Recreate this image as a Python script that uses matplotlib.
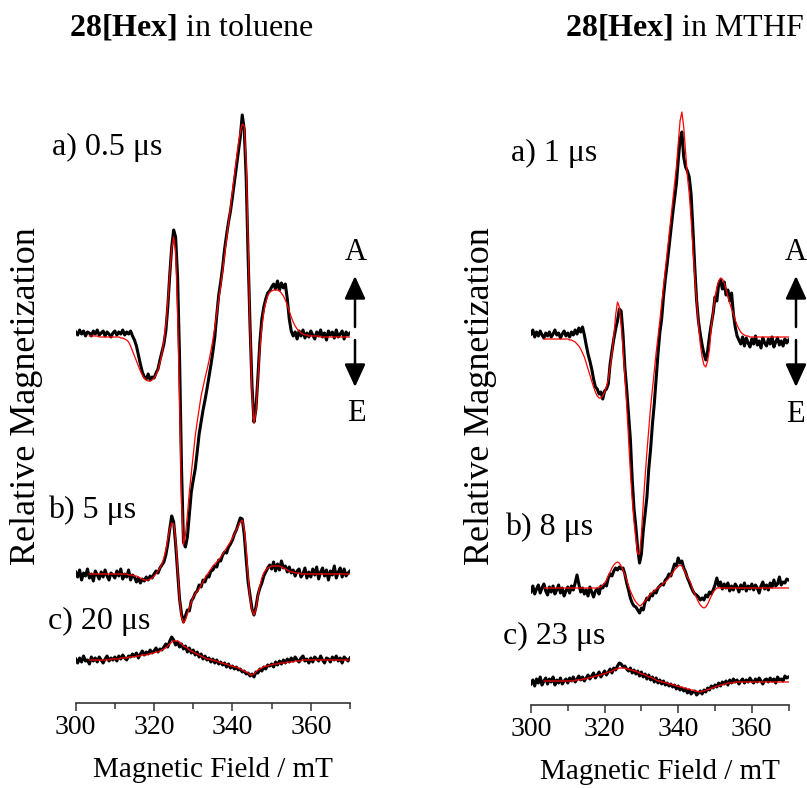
import numpy as np
import matplotlib
matplotlib.use("Agg")
import matplotlib.pyplot as plt
from matplotlib.ticker import MultipleLocator

plt.rcParams["font.family"] = "Liberation Serif"
plt.rcParams["mathtext.fontset"] = "custom"
plt.rcParams["mathtext.rm"] = "Liberation Serif"
plt.rcParams["mathtext.bf"] = "Liberation Serif:bold"

# magnetic field grid (mT): spectra every 0.5 mT, simulations start at 303.5 mT
field = np.arange(300.0, 370.25, 0.5)
fit_field = np.arange(303.5, 370.25, 0.5)

# ---- 28[Hex] in toluene (relative magnetization, arb. units) ----
tol_a_exp = [5, 2, 7, 3, 6, 1, 5, 4, 1, 6,
             3, 7, 2, 4, 6, 1, 5, 3, 0, 4,
             6, 2, 5, 3, 7, 2, 5, 3, 6, 1,
             -3, -9, -18, -27, -35, -40, -42, -37, -43, -40,
             -41, -36, -32, -23, -15, -7, 6, 30, 62, 90,
             107, 100, 60, -20, -130, -205, -210, -200, -178, -155,
             -143, -132, -115, -97, -85, -73, -63, -52, -40, -28,
             -15, 0, 22, 42, 55, 70, 88, 102, 115, 126,
             140, 155, 170, 185, 200, 222, 208, 160, 80, 10,
             -50, -85, -72, -40, -5, 18, 30, 38, 44, 46,
             50, 53, 48, 56, 47, 54, 49, 53, 38, 18,
             6, 1, 5, -2, 6, 1, 7, -1, 4, 0,
             6, 2, -2, 5, 1, 7, 0, 4, -3, 6,
             2, 5, -1, 7, 0, 3, 6, -2, 5, 2,
             4]
tol_a_fit = [1, 1, 1,
             1, 1, 0, 0, 0, 0, 0, 0, 0, 0,
             0, 0, 0, -1, -1, -2, -3, -5, -9, -14,
             -19, -24, -29, -34, -38, -41, -43, -44, -44, -43,
             -41, -38, -33, -26, -16, -4, 12, 35, 63, 88,
             100, 85, 25, -60, -165, -208, -198, -178, -155, -136,
             -116, -99, -85, -72, -59, -50, -41, -33, -24, -14,
             -3, 10, 24, 37, 51, 66, 82, 98, 114, 130,
             146, 162, 178, 193, 205, 213, 211, 175, 95, 5,
             -58, -86, -75, -42, -12, 10, 25, 35, 41, 45,
             46, 47, 47, 47, 46, 44, 41, 37, 32, 26,
             20, 15, 11, 8, 6, 4, 3, 2, 2, 1,
             1, 1, 1, 1, 1, 0, 0, 0, 0, 0,
             0, 0, 0, 0, 0, 0, 0, 0, 0, 0,
             0]
tol_b_exp = [2, -3, 4, -6, 1, -2, 5, -4, 0, -7,
             3, -1, -5, 2, -3, 4, -2, -6, 1, -1,
             -4, 3, -2, 5, -5, 0, -3, 4, -6, -1,
             -3, -8, -4, -9, -5, -7, -3, -6, -2, -4,
             0, 3, 1, 6, 9, 12, 19, 30, 45, 58,
             52, 30, 2, -25, -40, -48, -42, -36, -37, -27,
             -24, -19, -17, -11, -13, -6, -8, -2, -3, 3,
             4, 8, 7, 14, 13, 19, 22, 21, 27, 30,
             34, 40, 44, 50, 56, 55, 40, 15, -8, -22,
             -35, -41, -33, -21, -14, -9, -2, 2, 6, 9,
             5, 12, 3, 10, 4, 13, 6, 8, 2, 7,
             1, 4, -2, 3, 5, -3, 0, 6, -4, 2,
             -3, 5, -1, 7, -5, 2, 6, -2, 4, -6,
             3, -1, 8, -4, 2, 6, -3, 5, -2, 1,
             3]
tol_b_fit = [0, 0, 0,
             0, 0, 0, 0, 0, 0, 0, 0, 0, 0,
             0, 0, 0, 0, 0, 0, 0, -1, -1, -1,
             -2, -2, -3, -4, -5, -6, -6, -6, -5, -4,
             -2, 0, 3, 6, 10, 16, 24, 35, 45, 51,
             50, 35, 5, -25, -43, -49, -46, -40, -34, -28,
             -23, -20, -17, -15, -11, -8, -4, -1, 2, 5,
             8, 10, 12, 14, 17, 20, 23, 26, 29, 32,
             36, 40, 44, 48, 52, 54, 45, 25, -2, -25,
             -36, -41, -35, -22, -12, -4, 1, 4, 6, 7,
             8, 8, 8, 8, 8, 7, 6, 5, 4, 3,
             2, 2, 1, 1, 1, 0, 0, 0, 0, 0,
             0, 0, 0, 0, 0, 0, 0, 0, 0, 0,
             0, 0, 0, 0, 0, 0, 0, 0, 0, 0,
             0]
tol_c_exp = [1, -3, 2, -2, 4, -1, 0, -4, 3, -1,
             2, -2, 3, 0, -3, 1, 4, -1, 2, 0,
             3, -1, 4, 1, 5, 2, 0, 4, 3, 6,
             4, 7, 2, 6, 9, 5, 8, 6, 10, 7,
             9, 12, 8, 11, 10, 13, 16, 13, 19, 23,
             20, 15, 18, 13, 16, 11, 14, 8, 12, 7,
             10, 5, 8, 3, 6, 1, 4, 0, 2, -2,
             1, -3, 0, -4, -2, -5, -3, -7, -4, -8,
             -6, -9, -7, -10, -9, -12, -11, -14, -13, -16,
             -14, -17, -12, -13, -9, -11, -7, -9, -5, -6,
             -4, -7, -2, -5, -1, -4, 0, -3, 1, -2,
             2, -1, 3, 0, -2, 2, 4, -1, 1, -3,
             2, -2, 3, 1, -1, 4, 0, -3, 2, 1,
             -2, 3, 0, 4, -1, 2, -3, 3, 1, -1,
             2]
tol_c_fit = [0, 0, 0,
             0, 0, 0, 0, 0, 0, 0, 0, 1, 1,
             1, 1, 1, 2, 2, 2, 2, 3, 3, 3,
             3, 4, 4, 4, 5, 5, 5, 6, 6, 7,
             7, 8, 8, 9, 10, 11, 12, 14, 16, 18,
             19, 19, 19, 18, 16, 14, 13, 12, 10, 9,
             8, 7, 6, 5, 4, 3, 2, 1, 1, 0,
             0, -1, -1, -2, -3, -3, -4, -4, -5, -6,
             -6, -7, -7, -8, -9, -10, -11, -12, -13, -15,
             -15, -14, -12, -10, -9, -8, -7, -6, -6, -5,
             -5, -4, -4, -4, -3, -3, -3, -3, -2, -2,
             -2, -2, -1, -1, -1, -1, 0, 0, 0, 0,
             0, 0, 0, 0, 0, 0, 0, 0, 0, 0,
             0, 0, 0, 0, 0, 0, 0, 0, 0, 0,
             0]

# ---- 28[Hex] in MTHF ----
mthf_a_exp = [5, 9, 2, 7, 3, 8, 4, 1, 6, 3,
              7, 2, 5, 9, 4, 6, 1, 5, 8, 3,
              6, 2, 7, 4, 9, 5, 11, 7, 12, 4,
              -6, -15, -22, -30, -40, -48, -50, -55, -53, -60,
              -52, -50, -45, -25, -12, 0, 10, 18, 30, 28,
              5, -28, -50, -75, -100, -140, -170, -188, -210, -224,
              -215, -192, -175, -158, -130, -110, -85, -65, -40, -15,
              6, 20, 42, 60, 75, 92, 108, 125, 140, 155,
              178, 199, 207, 182, 172, 168, 162, 145, 110, 72,
              39, 18, 5, -6, -15, -21, -12, 3, 15, 26,
              42, 38, 55, 59, 50, 57, 44, 49, 38, 46,
              25, 12, 3, -1, -5, 2, -7, 1, -4, -8,
              0, -5, 3, -6, -2, -9, 1, -4, -7, 0,
              -5, 2, -8, -3, 1, -6, -2, -7, 0, -4,
              -1]
mthf_a_fit = [0, 0, 0,
              0, 0, 0, 0, 0, 0, 0, 0, 0, 0,
              0, -1, -1, -2, -3, -5, -7, -10, -14, -18,
              -24, -30, -36, -42, -48, -53, -57, -59, -59, -57,
              -53, -48, -40, -28, -15, 3, 24, 37, 32, 14,
              -10, -37, -66, -100, -133, -160, -183, -200, -215, -215,
              -195, -165, -138, -113, -90, -68, -50, -32, -14, 2,
              18, 35, 52, 69, 86, 103, 120, 137, 154, 172,
              195, 218, 227, 212, 188, 163, 145, 120, 90, 62,
              38, 15, -5, -18, -26, -28, -22, -10, 12, 28,
              42, 52, 58, 61, 60, 56, 50, 43, 36, 30,
              25, 19, 14, 10, 7, 5, 4, 3, 3, 2,
              2, 2, 2, 2, 2, 2, 2, 2, 2, 2,
              2, 2, 2, 2, 2, 2, 2, 2, 2, 2,
              2]
mthf_b_exp = [-4, 2, -6, -1, 3, -5, 0, 4, -3, -7,
              1, -4, 2, -6, -2, 3, -5, 0, -8, -3,
              1, -5, 2, -2, 5, 13, 4, -4, 0, -6,
              -2, -8, 1, -4, -9, -3, -1, -6, 2, 0,
              4, 2, 10, 14, 12, 17, 20, 18, 21, 19,
              20, 14, 5, -2, -10, -15, -18, -19, -22, -25,
              -20, -22, -14, -10, -12, -6, -8, -3, -5, 0,
              2, 4, 3, 8, 10, 14, 12, 18, 24, 22,
              30, 25, 27, 20, 16, 10, 6, 1, -3, -6,
              -7, -9, -12, -10, -12, -7, -9, -4, -6, -2,
              3, 10, 2, 6, -1, 4, 0, 5, -3, 2,
              -2, 4, 1, -4, 3, -1, 5, -3, 2, -1,
              4, -2, 3, 0, -5, 2, 6, -1, 3, -2,
              5, 1, 8, 2, 4, 11, 3, 6, 5, 9,
              8]
mthf_b_fit = [0, 0, 0,
              0, 0, 0, 0, 0, 0, 0, 0, 0, 0,
              0, 0, 0, 0, 0, 0, 0, 0, 0, 0,
              0, 0, 0, 0, 0, 0, 0, 1, 1, 3,
              5, 8, 12, 16, 20, 23, 25, 26, 25, 22,
              18, 13, 8, 2, -3, -7, -11, -14, -16, -18,
              -17, -15, -13, -11, -8, -6, -4, -3, -1, 0,
              2, 3, 5, 6, 8, 10, 13, 15, 18, 20,
              22, 23, 22, 19, 15, 11, 8, 4, -2, -6,
              -10, -14, -17, -19, -20, -19, -16, -12, -8, -4,
              -2, 0, 0, 0, 0, 0, 0, 0, 0, 0,
              0, 0, 0, 0, 0, 0, 0, 0, 0, 0,
              0, 0, 0, 0, 0, 0, 0, 0, 0, 0,
              0, 0, 0, 0, 0, 0, 0, 0, 0, 0,
              0]
mthf_c_exp = [-3, 1, -5, 2, -2, 4, -4, 0, 3, -3,
              2, -1, 4, -4, 1, -2, 3, -3, 0, 2,
              -2, 3, 0, 4, -1, 2, 5, 1, 4, 0,
              3, 6, 2, 5, 8, 3, 6, 9, 4, 7,
              10, 6, 9, 12, 8, 13, 11, 15, 18, 17,
              14, 15, 12, 10, 13, 8, 11, 7, 10, 5,
              9, 4, 7, 2, 6, 1, 4, -1, 3, -2,
              1, -3, 0, -4, -2, -5, -3, -6, -4, -8,
              -5, -9, -7, -10, -8, -12, -9, -13, -11, -10,
              -14, -12, -10, -13, -9, -11, -7, -9, -5, -7,
              -4, -6, -2, -5, -1, -3, 0, -4, 1, -2,
              2, -1, 1, -3, 0, 2, -2, 1, -1, 3,
              0, -2, 2, -1, 3, 0, -3, 1, 2, -1,
              3, 0, 2, -2, 4, 1, 2, 0, 5, 3,
              4]
mthf_c_fit = [0, 0, 0,
              0, 0, 0, 0, 0, 0, 0, 0, 0, 0,
              0, 0, 0, 0, 1, 1, 1, 1, 2, 2,
              2, 3, 3, 4, 4, 5, 5, 6, 6, 7,
              7, 8, 9, 9, 10, 11, 12, 12, 13, 13,
              13, 13, 12, 12, 11, 11, 10, 10, 9, 8,
              7, 7, 6, 5, 4, 4, 3, 2, 1, 0,
              0, -1, -1, -2, -2, -3, -3, -4, -4, -5,
              -5, -6, -6, -7, -7, -8, -8, -9, -9, -10,
              -10, -11, -11, -10, -10, -9, -9, -8, -7, -7,
              -6, -5, -5, -4, -4, -3, -3, -2, -2, -2,
              -2, -1, -1, -1, -1, -1, -1, -1, -1, -1,
              -1, -1, -1, -1, -1, -1, -1, -1, -1, -1,
              -1, -1, -1, -1, -1, -1, -1, -1, -1, -1,
              -1]

for s in (tol_a_exp, tol_b_exp, tol_c_exp, mthf_a_exp, mthf_b_exp, mthf_c_exp):
    assert len(s) == len(field)
for s in (tol_a_fit, tol_b_fit, tol_c_fit, mthf_a_fit, mthf_b_fit, mthf_c_fit):
    assert len(s) == len(fit_field)

W, H = 807, 788
fig = plt.figure(figsize=(W / 100, H / 100), dpi=100)

panels = [
    dict(rect=[75.7 / W, 85 / H, 274.3 / W, 603 / H], top=603,
         traces=[(tol_a_exp, tol_a_fit, 366), (tol_b_exp, tol_b_fit, 129), (tol_c_exp, tol_c_fit, 43)],
         title=r"$\mathbf{28[Hex]}$ in toluene", title_xy=(191, 28),
         labels=[("a) 0.5 μs", 52, 147), ("b) 5 μs", 48, 510), ("c) 20 μs", 48, 621)],
         ylabel_xy=(27, 396), arrow_x=355, A_xy=(356, 252), E_xy=(356, 413)),
    dict(rect=[531 / W, 83 / H, 257.6 / W, 605 / H], top=605,
         traces=[(mthf_a_exp, mthf_a_fit, 366), (mthf_b_exp, mthf_b_fit, 117), (mthf_c_exp, mthf_c_fit, 24)],
         title=r"$\mathbf{28[Hex]}$ in MTHF", title_xy=(685, 28),
         labels=[("a) 1 μs", 511, 153), ("b) 8 μs", 505, 527), ("c) 23 μs", 503, 636)],
         ylabel_xy=(481, 396), arrow_x=796, A_xy=(796, 252), E_xy=(795, 414)),
]

for p in panels:
    ax = fig.add_axes(p["rect"])
    for exp, fit, off in p["traces"]:
        ax.plot(field, off + np.array(exp), color="black", lw=2.2, solid_joinstyle="round")
        ax.plot(fit_field, off + np.array(fit), color="red", lw=0.9)
    ax.set_xlim(300, 370)
    ax.set_ylim(0, p["top"])
    ax.patch.set_visible(False)
    for s in ("top", "left", "right"):
        ax.spines[s].set_visible(False)
    ax.spines["bottom"].set_linewidth(1.2)
    ax.spines["bottom"].set_color("#333333")
    ax.set_yticks([])
    ax.xaxis.set_major_locator(MultipleLocator(20))
    ax.xaxis.set_minor_locator(MultipleLocator(10))
    ax.tick_params(axis="x", which="major", length=6, width=1.1, color="#333333",
                   labelsize=20, pad=3)
    ax.tick_params(axis="x", which="minor", length=4, width=1.1, color="#333333")
    ax.set_xlabel("Magnetic Field / mT", fontsize=21, labelpad=12)

    tx, ty = p["title_xy"]
    fig.text(tx / W, 1 - ty / H, p["title"], fontsize=23, ha="center", va="center")
    for txt, lx, ly in p["labels"]:
        fig.text(lx / W, 1 - ly / H, txt, fontsize=23, ha="left", va="center")
    yx, yy = p["ylabel_xy"]
    fig.text(yx / W, 1 - yy / H, "Relative Magnetization", fontsize=26,
             rotation=90, ha="center", va="center")

    # absorption / emission arrows
    x = p["arrow_x"]
    arrow = dict(arrowstyle="-|>,head_length=0.7,head_width=0.32", mutation_scale=20,
                 lw=1.8, color="black", shrinkA=0, shrinkB=0)
    ax.annotate("", xy=(x, H - 276), xytext=(x, H - 327), xycoords="figure pixels",
                textcoords="figure pixels", arrowprops=arrow)
    ax.annotate("", xy=(x, H - 387), xytext=(x, H - 340), xycoords="figure pixels",
                textcoords="figure pixels", arrowprops=arrow)
    ax_, ay_ = p["A_xy"]
    ex_, ey_ = p["E_xy"]
    fig.text(ax_ / W, 1 - ay_ / H, "A", fontsize=22, ha="center", va="center")
    fig.text(ex_ / W, 1 - ey_ / H, "E", fontsize=22, ha="center", va="center")

fig.savefig("out.png", dpi=100)
